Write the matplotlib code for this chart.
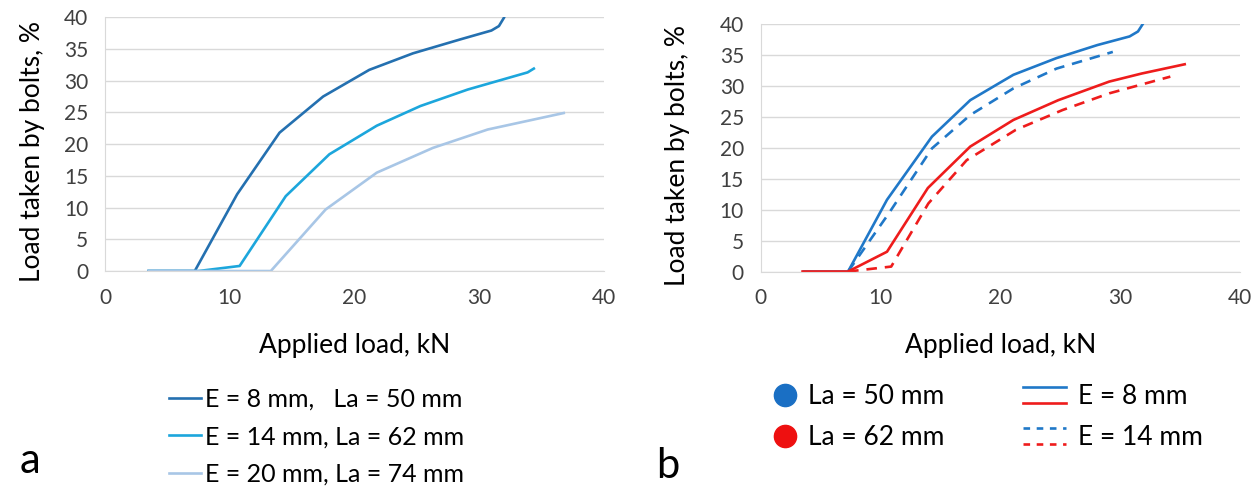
import matplotlib.pyplot as plt
from matplotlib.lines import Line2D
from matplotlib.legend_handler import HandlerBase

# ---- panel a data ----
x_e8 = [3.5, 7.2, 10.6, 14.0, 17.5, 21.2, 24.7, 28.5, 31.0, 31.6, 32.0]
y_e8 = [0.0, 0.0, 12.1, 21.8, 27.5, 31.7, 34.3, 36.5, 37.9, 38.6, 39.9]
x_e14 = [3.5, 4.4, 7.5, 10.8, 14.5, 18.0, 21.8, 25.3, 29.1, 33.9, 34.4]
y_e14 = [0.0, 0.0, 0.0, 0.8, 11.8, 18.4, 22.9, 26.0, 28.6, 31.3, 31.9]
x_e20 = [3.5, 13.3, 17.7, 21.8, 26.3, 30.7, 36.8]
y_e20 = [0.0, 0.0, 9.7, 15.5, 19.4, 22.3, 24.9]

# ---- panel b data ----
x_b50_e8 = [3.6, 7.3, 10.55, 14.3, 17.5, 21.1, 24.7, 28.1, 30.8, 31.5, 31.9]
y_b50_e8 = [0.0, 0.0, 11.6, 21.8, 27.7, 31.8, 34.5, 36.6, 38.0, 38.8, 40.0]
x_b50_e14 = [7.3, 10.7, 14.3, 17.5, 21.1, 24.7, 29.4]
y_b50_e14 = [0.0, 9.4, 19.9, 25.3, 29.6, 32.8, 35.5]
x_b62_e8 = [3.5, 7.3, 10.55, 13.96, 17.5, 21.1, 24.85, 29.1, 31.8, 35.4]
y_b62_e8 = [0.0, 0.0, 3.2, 13.5, 20.2, 24.5, 27.7, 30.7, 32.0, 33.5]
x_b62_e14 = [7.3, 10.9, 14.0, 17.2, 21.3, 25.2, 29.1, 34.2]
y_b62_e14 = [0.0, 0.8, 11.0, 18.0, 22.9, 26.1, 28.8, 31.5]

x_ticks = [0, 10, 20, 30, 40]
y_ticks = [0, 5, 10, 15, 20, 25, 30, 35, 40]

C_DARK = '#2470B0'
C_MID = '#1CA6DC'
C_LIGHT = '#A8C6E6'
C_BLUE = '#2078C8'
C_RED = '#EE1C1C'
GRID = '#D9D9D9'

plt.rcParams['font.family'] = ['Lato', 'DejaVu Sans']

fig = plt.figure(figsize=(12.56, 4.91), dpi=100)
ax1 = fig.add_axes([0.0836, 0.448, 0.397, 0.517])
ax2 = fig.add_axes([0.6056, 0.447, 0.3815, 0.504])


def style(ax):
    ax.set_xlim(0, 40)
    ax.set_ylim(0, 40)
    ax.set_xticks(x_ticks)
    ax.set_yticks(y_ticks)
    ax.grid(axis='y', color=GRID, lw=1)
    ax.set_axisbelow(True)
    for s in ['top', 'right']:
        ax.spines[s].set_visible(False)
    for s in ['left', 'bottom']:
        ax.spines[s].set_color(GRID)
    ax.tick_params(length=0, labelsize=15, colors='#404040')
    ax.tick_params(axis='y', pad=12)
    ax.tick_params(axis='x', pad=12)
    ax.set_xlabel('Applied load, kN', fontsize=19, labelpad=18)
    ax.set_ylabel('Load taken by bolts, %', fontsize=19)


ax1.plot(x_e8, y_e8, color=C_DARK, lw=1.9, label='E = 8 mm,   La = 50 mm')
ax1.plot(x_e14, y_e14, color=C_MID, lw=1.9, label='E = 14 mm, La = 62 mm')
ax1.plot(x_e20, y_e20, color=C_LIGHT, lw=1.9, label='E = 20 mm, La = 74 mm')
style(ax1)
ax1.yaxis.set_label_coords(-0.12, 0.47)

ax2.plot(x_b50_e8, y_b50_e8, color=C_BLUE, lw=1.9)
ax2.plot(x_b50_e14, y_b50_e14, color=C_BLUE, lw=1.9, ls=(0, (4, 3)))
ax2.plot(x_b62_e8, y_b62_e8, color=C_RED, lw=1.9)
ax2.plot(x_b62_e14, y_b62_e14, color=C_RED, lw=1.9, ls=(0, (4, 3)))
style(ax2)
ax2.yaxis.set_label_coords(-0.147, 0.47)

ax1.legend(loc='upper left', bbox_to_anchor=(0.108, -0.42), frameon=False,
           fontsize=18, handlelength=1.28, handletextpad=0.16, labelspacing=0.58,
           borderaxespad=0)


class TwoLines(HandlerBase):
    def __init__(self, ls):
        super().__init__()
        self.ls = ls

    def create_artists(self, legend, orig_handle, xdescent, ydescent,
                       width, height, fontsize, trans):
        out = []
        for frac, c in [(0.95, C_BLUE), (0.05, C_RED)]:
            y = -ydescent + height * frac
            ln = Line2D([-xdescent, -xdescent + width], [y, y], color=c, lw=1.9,
                        ls=self.ls, transform=trans)
            out.append(ln)
        return out


h_la50 = Line2D([], [], ls='', marker='o', ms=16, color='#1A6FC4')
h_la62 = Line2D([], [], ls='', marker='o', ms=16, color='#EE1010')
leg_la = ax2.legend([h_la50, h_la62], ['La = 50 mm', 'La = 62 mm'],
                    loc='upper left', bbox_to_anchor=(0.002, -0.413),
                    frameon=False, fontsize=19, handlelength=1.0, handletextpad=0.34,
                    labelspacing=0.6, borderaxespad=0)
ax2.add_artist(leg_la)

h_e8 = Line2D([], [])
h_e14 = Line2D([], [])
ax2.legend([h_e8, h_e14], ['E = 8 mm', 'E = 14 mm'],
           handler_map={h_e8: TwoLines('-'), h_e14: TwoLines((0, (2.5, 2.5)))},
           loc='upper left', bbox_to_anchor=(0.526, -0.413),
           frameon=False, fontsize=19, handlelength=1.63, handletextpad=0.45,
           labelspacing=0.6, borderaxespad=0)

fig.text(0.016, 0.037, 'a', fontsize=30)
fig.text(0.522, 0.027, 'b', fontsize=30)

fig.savefig('out.png', dpi=100)
